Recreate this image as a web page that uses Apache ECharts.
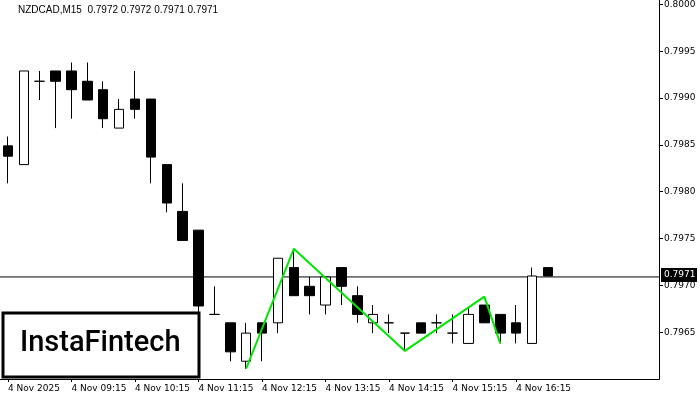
<!DOCTYPE html>
<html><head><meta charset="utf-8">
<script src="https://cdn.jsdelivr.net/npm/echarts@6/dist/echarts.min.js"></script>
<style>html,body{margin:0;padding:0;background:#fff}#main{width:700px;height:400px}</style>
</head><body><div id="main"></div>
<script>
var chart = echarts.init(document.getElementById('main'));

// 15 minute bars, 4 Nov 2025 from 08:15
var times = ['08:15','08:30','08:45','09:00','09:15','09:30','09:45','10:00','10:15','10:30','10:45','11:00',
  '11:15','11:30','11:45','12:00','12:15','12:30','12:45','13:00','13:15','13:30','13:45','14:00',
  '14:15','14:30','14:45','15:00','15:15','15:30','15:45','16:00','16:15','16:30','16:45','17:00',
  '17:15','17:30','17:45','18:00','18:15','18:30'];
var opens  = [0.79850,0.79830,0.79919,0.79930,0.79930,0.79919,0.79910,0.79869,0.79900,0.79900,0.79830,0.79780,
  0.79760,0.79670,0.79661,0.79620,0.79661,0.79661,0.79720,0.79700,0.79680,0.79720,0.79690,0.79661,
  0.79661,0.79650,0.79661,0.79661,0.79650,0.79639,0.79680,0.79670,0.79661,0.79639,0.79720];
var closes = [0.79839,0.79930,0.79919,0.79919,0.79910,0.79899,0.79879,0.79889,0.79889,0.79838,0.79789,0.79749,
  0.79679,0.79670,0.79630,0.79650,0.79650,0.79730,0.79690,0.79690,0.79710,0.79700,0.79670,0.79670,
  0.79661,0.79650,0.79650,0.79661,0.79650,0.79670,0.79661,0.79650,0.79650,0.79711,0.79711];
var lows   = [0.79810,0.79830,0.79899,0.79869,0.79879,0.79899,0.79869,0.79869,0.79879,0.79810,0.79779,0.79749,
  0.79670,0.79670,0.79620,0.79612,0.79620,0.79650,0.79690,0.79670,0.79670,0.79680,0.79661,0.79650,
  0.79650,0.79631,0.79650,0.79650,0.79639,0.79639,0.79661,0.79639,0.79639,0.79639,0.79711];
var highs  = [0.79860,0.79930,0.79930,0.79930,0.79939,0.79939,0.79919,0.79900,0.79930,0.79900,0.79830,0.79810,
  0.79760,0.79700,0.79661,0.79661,0.79661,0.79730,0.79740,0.79710,0.79710,0.79720,0.79700,0.79680,
  0.79670,0.79650,0.79661,0.79670,0.79670,0.79677,0.79680,0.79670,0.79680,0.79720,0.79720];
var tickText = {0:'4 Nov 2025',4:'4 Nov 09:15',8:'4 Nov 10:15',12:'4 Nov 11:15',16:'4 Nov 12:15',
  20:'4 Nov 13:15',24:'4 Nov 14:15',28:'4 Nov 15:15',32:'4 Nov 16:15'};
// triple bottom pattern points [bar index, price]
var pattern = [[15,0.79612],[18,0.79740],[25,0.79631],[30,0.79689],[31,0.79639]];
var lastPrice = 0.7971;

var ohlc = [];
for (var i = 0; i < opens.length; i++) {
  ohlc.push([opens[i], closes[i], lows[i], highs[i]]);
}

var option = {
  animation: false,
  backgroundColor: '#fff',
  grid: {left: -5, right: 33, top: 0, bottom: 21},
  xAxis: {
    type: 'category', data: times, boundaryGap: true,
    axisLine: {show: false},
    axisTick: {show: true, alignWithLabel: true, interval: function (idx) { return idx % 4 === 0 && idx <= 32; },
      length: 3, lineStyle: {color: '#000'}},
    axisLabel: {interval: 3, align: 'left', margin: 5, color: '#000', fontSize: 9, fontFamily: 'DejaVu Sans',
      formatter: function (v, idx) { return tickText[idx] || ''; }},
    splitLine: {show: false}
  },
  yAxis: {
    type: 'value', position: 'right', offset: -8, min: 0.79601, max: 0.80003, interval: 0.0005,
    axisLine: {show: false},
    axisTick: {show: true, inside: false, length: 4, lineStyle: {color: '#000'}},
    axisLabel: {color: '#000', fontSize: 9, fontFamily: 'DejaVu Sans', margin: 5, showMinLabel: false,
      formatter: function (v) { return v.toFixed(4); }},
    splitLine: {show: false}
  },
  series: [{
    type: 'line', data: [[-1, lastPrice], [times.length, lastPrice]], symbol: 'none', z: 1,
    clip: true, lineStyle: {color: '#000', width: 1}
  }, {
    type: 'candlestick', data: ohlc, barWidth: 10, z: 3,
    itemStyle: {color: '#fff', borderColor: '#000', color0: '#000', borderColor0: '#000', borderWidth: 1}
  }, {
    type: 'line', data: pattern, symbol: 'none', z: 10,
    lineStyle: {color: '#00e600', width: 2}
  }],
  graphic: [
    {type: 'text', left: 18, top: 5, style: {text: 'NZDCAD,M15  0.7972 0.7972 0.7971 0.7971', fill: '#000', font: '10px Liberation Sans'}},
    {type: 'rect', shape: {x: 659.5, y: 268, width: 10, height: 14}, style: {fill: '#fff'}, z: 5},
    {type: 'line', shape: {x1: 0, y1: 379.5, x2: 659.5, y2: 379.5}, style: {stroke: '#000', lineWidth: 1}},
    {type: 'line', shape: {x1: 659.5, y1: 0, x2: 659.5, y2: 379.5}, style: {stroke: '#000', lineWidth: 1}, z: 6},
    {type: 'rect', shape: {x: 661, y: 268, width: 36, height: 14}, style: {fill: '#000'}, z: 20},
    {type: 'text', x: 664, y: 270, style: {text: lastPrice.toFixed(4), fill: '#fff', font: '9px DejaVu Sans'}, z: 21},
    {type: 'rect', shape: {x: 3, y: 313, width: 196, height: 64}, style: {fill: '#fff', stroke: '#000', lineWidth: 3}, z: 30},
    {type: 'text', x: 20, y: 329, style: {text: 'InstaFintech', fill: '#000', font: '500 29px Roboto'}, z: 31}
  ]
};
chart.setOption(option);
</script></body></html>
